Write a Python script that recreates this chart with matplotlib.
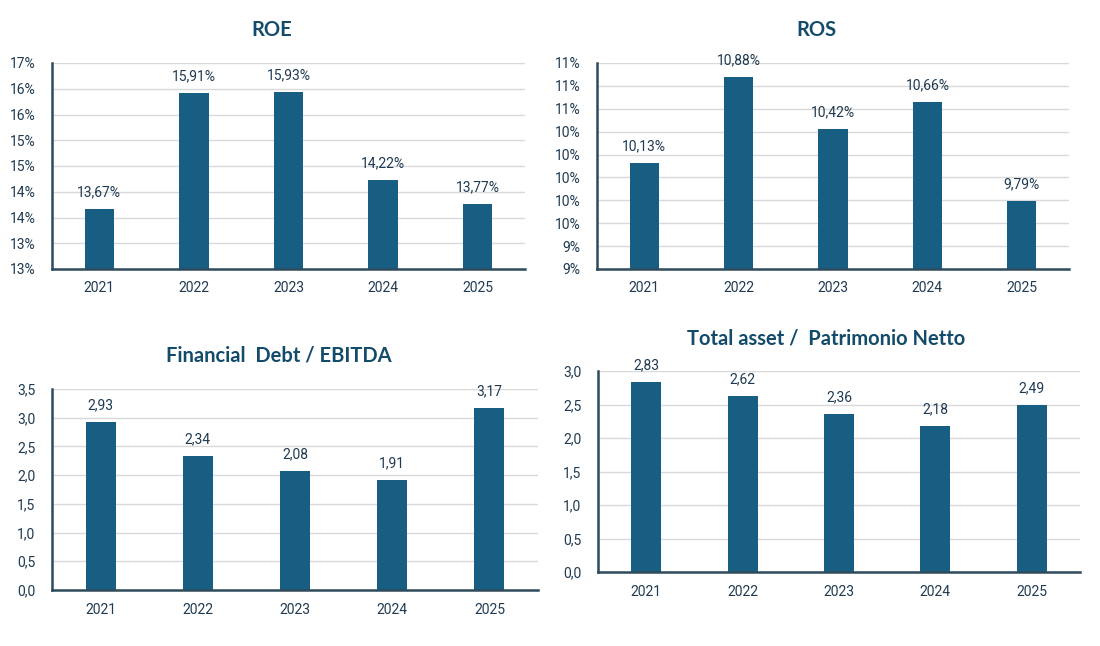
import matplotlib
matplotlib.use("Agg")
import matplotlib.pyplot as plt
import numpy as np
from matplotlib.ticker import FuncFormatter, MultipleLocator

years = ["2021", "2022", "2023", "2024", "2025"]
roe = [13.67, 15.91, 15.93, 14.22, 13.77]
ros = [10.13, 10.88, 10.42, 10.66, 9.79]
fin_debt_ebitda = [2.93, 2.34, 2.08, 1.91, 3.17]
assets_equity = [2.83, 2.62, 2.36, 2.18, 2.49]

BAR = "#175E82"
TXT = "#1F3A52"
TITLE = "#134B6B"
SPINE = "#2E4B5C"
GRID = "#D9D9D9"

fig = plt.figure(figsize=(11, 6.46), dpi=100)
fig.patch.set_facecolor("white")

tick_font = ["Liberation Sans Narrow", "Roboto", "DejaVu Sans"]
title_font = ["Lato", "Open Sans", "DejaVu Sans"]

def pct_fmt(v, pos):
    return f"{int(np.floor(v + 0.5 + 1e-9))}%"

def dec1_fmt(v, pos):
    return f"{v:.1f}".replace(".", ",")

def make(rect, values, title, title_xy, ylim, step, yfmt, lblfmt):
    ax = fig.add_axes(rect)
    x = np.arange(len(years))
    ax.bar(x, values, width=0.31, color=BAR, zorder=3)
    ax.set_xlim(-0.5, len(years) - 0.5)
    ax.set_ylim(*ylim)
    ax.yaxis.set_major_locator(MultipleLocator(step))
    ax.yaxis.set_major_formatter(FuncFormatter(yfmt))
    ax.set_xticks(x)
    ax.set_xticklabels(years)
    ax.grid(axis="y", color=GRID, linewidth=1, zorder=0)
    ax.set_axisbelow(True)
    for s in ["top", "right"]:
        ax.spines[s].set_visible(False)
    for s in ["left", "bottom"]:
        ax.spines[s].set_color(SPINE)
        ax.spines[s].set_linewidth(1.8)
        ax.spines[s].set_zorder(4)
    ax.tick_params(axis="both", length=0, colors=TXT, labelsize=10)
    ax.tick_params(axis="y", pad=12)
    ax.tick_params(axis="x", pad=9)
    for lab in ax.get_xticklabels() + ax.get_yticklabels():
        lab.set_fontfamily(tick_font)
    for xi, v in zip(x, values):
        ax.annotate(lblfmt(v), (xi, v), xytext=(0, 7), textcoords="offset points",
                    ha="center", va="bottom", color=TXT, fontsize=10,
                    family=tick_font)
    fig.text(title_xy[0] / 1100, 1 - title_xy[1] / 646, title, ha="center",
             va="center", color=TITLE, fontsize=14.5, fontweight="bold",
             family=title_font)
    return ax

pct_lbl = lambda v: f"{v:.2f}".replace(".", ",") + "%"
dec_lbl = lambda v: f"{v:.2f}".replace(".", ",")

make([52/1100, 1 - 269/646, 473/1100, 206/646], roe, "ROE", (272, 30),
     (12.5, 16.5), 0.5, pct_fmt, pct_lbl)
make([597/1100, 1 - 269/646, 472/1100, 206/646], ros, "ROS", (816, 30),
     (9.2, 11.0), 0.2, pct_fmt, pct_lbl)
make([52/1100, 1 - 590/646, 486/1100, 201/646], fin_debt_ebitda,
     "Financial  Debt / EBITDA", (279, 355), (0, 3.5), 0.5, dec1_fmt, dec_lbl)
make([598/1100, 1 - 572/646, 482/1100, 201/646], assets_equity,
     "Total asset /  Patrimonio Netto", (826, 338), (0, 3.0), 0.5, dec1_fmt, dec_lbl)

fig.savefig("out.png", dpi=100, facecolor="white")
